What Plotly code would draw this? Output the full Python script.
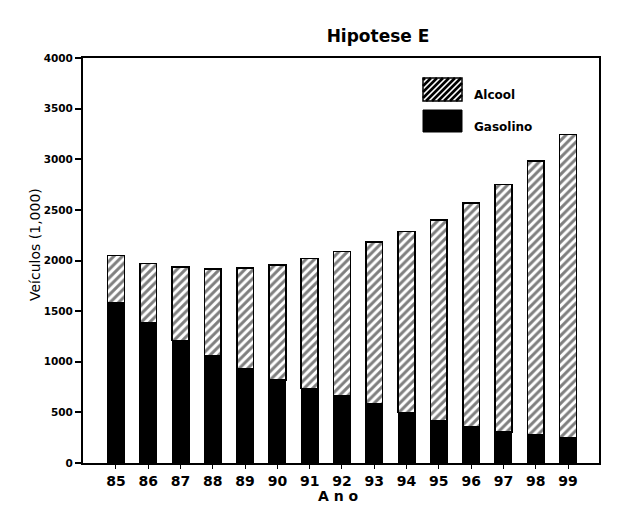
import plotly.graph_objects as go

# ---- data ----
anos = ["85", "86", "87", "88", "89", "90", "91", "92", "93", "94", "95", "96", "97", "98", "99"]
total = [2050, 1970, 1935, 1915, 1925, 1955, 2020, 2090, 2185, 2285, 2400, 2565, 2750, 2980, 3245]
gasolina = [1580, 1380, 1210, 1055, 935, 822, 737, 662, 586, 499, 420, 357, 308, 275, 248]
alcool = [t - g for t, g in zip(total, gasolina)]

titulo = "Hipotese E"
y_titulo = "Veículos (1,000)"
x_titulo = "A n o"
legenda = ["Alcool", "Gasolino"]

FONT = "DejaVu Sans"
OFF = 8  # default page margin of the html body

fig = go.Figure()
fig.add_trace(go.Bar(
    x=anos, y=gasolina, name="Gasolina",
    marker=dict(color="black", line=dict(color="black", width=1.2)),
    width=0.52, showlegend=False,
))
fig.add_trace(go.Bar(
    x=anos, y=alcool, name="Alcool",
    marker=dict(color="white", line=dict(color="black", width=1.6),
                pattern=dict(shape="/", fgcolor="black", bgcolor="white", size=6, solidity=0.5)),
    width=0.52, showlegend=False,
))

# plot area in screen pixels
L, R, T, B = 83, 599, 58, 463
W, H = R - L, B - T
FW, FH = 635 - OFF, 513 - OFF

def px2paper(px, py):
    return (px - L) / W, (B - py) / H

shapes = []

def swatch(x0, y0, x1, y1, hatched):
    a = px2paper(x0, y1)
    b = px2paper(x1, y0)
    if hatched:
        shapes.append(dict(type="rect", xref="paper", yref="paper", x0=a[0], y0=a[1], x1=b[0], y1=b[1],
                           fillcolor="white", line=dict(color="black", width=1.5), layer="above"))
        step = 6
        c = x0 + y0 + 2
        path = ""
        while c < x1 + y1:
            xa = max(x0, c - y1)
            xb = min(x1, c - y0)
            if xb > xa:
                p1 = px2paper(xa, c - xa)
                p2 = px2paper(xb, c - xb)
                path += f"M{p1[0]},{p1[1]} L{p2[0]},{p2[1]} "
            c += step
        shapes.append(dict(type="path", xref="paper", yref="paper", path=path,
                           line=dict(color="black", width=2.6), layer="above"))
    else:
        shapes.append(dict(type="rect", xref="paper", yref="paper", x0=a[0], y0=a[1], x1=b[0], y1=b[1],
                           fillcolor="black", line=dict(color="black", width=1), layer="above"))

swatch(423, 78, 462, 101, True)
swatch(423, 110, 462, 132, False)

annotations = []
for label, py in zip(legenda, (95, 127)):
    ax, ay = px2paper(472, py)
    annotations.append(dict(text=label, x=ax, y=ay, xref="paper", yref="paper",
                            xanchor="left", yanchor="middle", showarrow=False,
                            font=dict(family=FONT, size=12, color="black", weight="bold")))

ax, ay = px2paper(35, 245)
annotations.append(dict(text=y_titulo, x=ax, y=ay, xref="paper", yref="paper", textangle=-90,
                        xanchor="center", yanchor="middle", showarrow=False,
                        font=dict(family=FONT, size=14, color="black")))
ax, ay = px2paper(338, 496)
annotations.append(dict(text=x_titulo, x=ax, y=ay, xref="paper", yref="paper",
                        xanchor="center", yanchor="middle", showarrow=False,
                        font=dict(family=FONT, size=14, color="black", weight="bold")))

fig.update_layout(
    width=FW, height=FH,
    margin=dict(l=L - OFF, r=635 - R, t=T - OFF, b=513 - B),
    paper_bgcolor="white", plot_bgcolor="white",
    barmode="stack",
    title=dict(text=titulo, x=(378 - OFF) / FW, xanchor="center", xref="container",
               y=1 - (36 - OFF) / FH, yanchor="middle",
               font=dict(family=FONT, size=17, color="black", weight="bold")),
    shapes=shapes,
    annotations=annotations,
    xaxis=dict(type="category", range=[-1.02, 14.96], showline=True, linecolor="black", linewidth=2,
               mirror=True, ticks="outside", ticklen=4, tickcolor="black",
               tickfont=dict(family=FONT, size=14, color="black", weight="bold"),
               showgrid=False, zeroline=False),
    yaxis=dict(range=[0, 4000], dtick=500, showline=True, linecolor="black", linewidth=2,
               mirror=True, ticks="outside", ticklen=6, tickcolor="black", tickwidth=1.5,
               tickfont=dict(family=FONT, size=10.5, color="black", weight="bold"),
               showgrid=False, zeroline=False),
)

fig.write_html("out.html")
